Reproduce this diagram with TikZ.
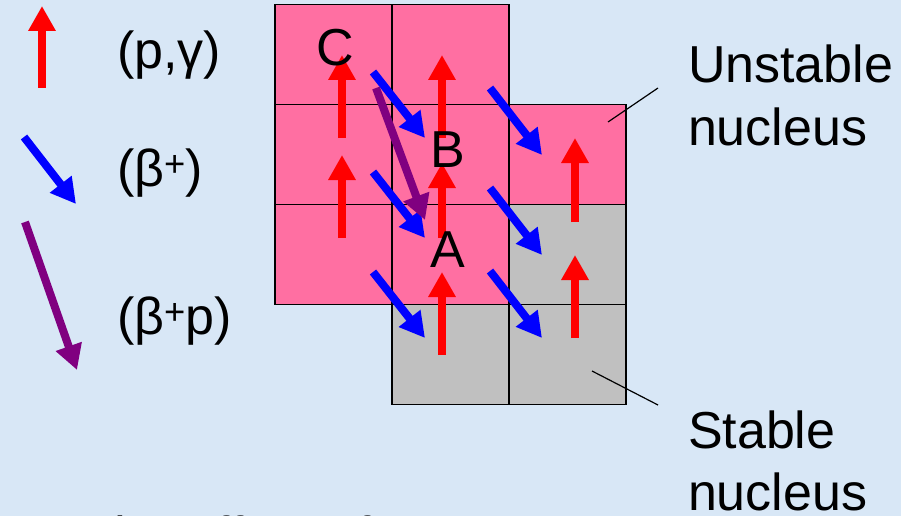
\documentclass[tikz,border=0pt]{standalone}
\usepackage{fontspec}
\setmainfont{Liberation Sans}
\usetikzlibrary{arrows.meta}
\definecolor{bgblue}{RGB}{216,231,246}
\definecolor{pinkc}{RGB}{255,111,162}
\definecolor{grayc}{RGB}{192,192,192}
\definecolor{purplec}{RGB}{128,0,128}
\tikzset{
  cell/.style={draw=black,line width=1.5pt,inner sep=0pt,outer sep=0pt,minimum width=117pt,minimum height=100pt},
  unstable/.style={cell,fill=pinkc},
  stable/.style={cell,fill=grayc},
  pg/.style={draw=red,line width=8pt,-{Triangle[length=25pt,width=26pt]}},
  bp/.style={draw=blue,line width=8pt,-{Triangle[length=25pt,width=26pt]}},
  bpp/.style={draw=purplec,line width=8pt,-{Triangle[length=25pt,width=26pt]}},
  big/.style={font=\fontsize{52}{62}\selectfont,inner sep=0pt,outer sep=0pt},
  leader/.style={draw=black,line width=1.2pt}
}
\begin{document}
\begin{tikzpicture}[x=1pt,y=-1pt]
\useasboundingbox (0,0) rectangle (901,516);
\fill[bgblue] (0,0) rectangle (901,516);
% grid cells
\node[unstable] (c00) at (333.5,54.5) {};
\node[unstable] (c01) at (333.5,154.5) {};
\node[unstable] (c02) at (333.5,254.5) {};
\node[unstable] (c10) at (450.5,54.5) {};
\node[unstable] (c11) at (450.5,154.5) {};
\node[unstable] (c12) at (450.5,254.5) {};
\node[stable] (c13) at (450.5,354.5) {};
\node[unstable] (c21) at (567.5,154.5) {};
\node[stable] (c22) at (567.5,254.5) {};
\node[stable] (c23) at (567.5,354.5) {};
% red (p,gamma) arrows
\coordinate (r1a) at (342,138); \coordinate (r1b) at (342,55);
\coordinate (r2a) at (342,238); \coordinate (r2b) at (342,155);
\coordinate (r3a) at (442,138); \coordinate (r3b) at (442,55);
\coordinate (r4a) at (442,238); \coordinate (r4b) at (442,163);
\coordinate (r5a) at (442,355); \coordinate (r5b) at (442,272);
\coordinate (r6a) at (575,222); \coordinate (r6b) at (575,138);
\coordinate (r7a) at (575,338); \coordinate (r7b) at (575,255);
\foreach \i in {1,...,7} {\draw[pg] (r\i a) -- (r\i b);}
% blue beta+ arrows
\coordinate (b1a) at (373,72);  \coordinate (b1b) at (425,138);
\coordinate (b2a) at (373,172); \coordinate (b2b) at (425,238);
\coordinate (b3a) at (373,272); \coordinate (b3b) at (425,338);
\coordinate (b4a) at (490,88);  \coordinate (b4b) at (542,155);
\coordinate (b5a) at (490,188); \coordinate (b5b) at (542,255);
\coordinate (b6a) at (490,271); \coordinate (b6b) at (542,338);
\foreach \i in {1,...,6} {\draw[bp] (b\i a) -- (b\i b);}
% purple beta+p arrow
\coordinate (p1a) at (376,88); \coordinate (p1b) at (425,220);
\draw[bpp] (p1a) -- (p1b);
% letters
\node[big] (C) at (335,48) {C};
\node[big] (B) at (448,150) {B};
\node[big] (A) at (448,250) {A};
% legend
\coordinate (lr1) at (42,88); \coordinate (lr2) at (42,6);
\draw[pg] (lr1) -- (lr2);
\coordinate (lb1) at (24,137); \coordinate (lb2) at (76,204);
\draw[bp] (lb1) -- (lb2);
\coordinate (lp1) at (25,222); \coordinate (lp2) at (77,370);
\draw[bpp] (lp1) -- (lp2);
\node[big,anchor=base west] (tpg) at (117,69) {(p,γ)};
\node[big,anchor=base west] (tb) at (117,186) {(β\textsuperscript{+})};
\node[big,anchor=base west] (tbp) at (117,334) {(β\textsuperscript{+}p)};
% right labels
\node[big,anchor=base west] (u1) at (688,83) {Unstable};
\node[big,anchor=base west] (u2) at (688,145) {nucleus};
\node[big,anchor=base west] (s1) at (688,448) {Stable};
\node[big,anchor=base west] (s2) at (688,510) {nucleus};
\coordinate (ul1) at (658,88); \coordinate (ul2) at (608,122);
\draw[leader] (ul1) -- (ul2);
\coordinate (sl1) at (592,371); \coordinate (sl2) at (658,405);
\draw[leader] (sl1) -- (sl2);
% bottom text, cut by the edge
\begin{scope}
\clip (0,0) rectangle (901,516);
\node[big,anchor=base west] (bot) at (100,553) {the effect of};
\end{scope}
\end{tikzpicture}
\end{document}
